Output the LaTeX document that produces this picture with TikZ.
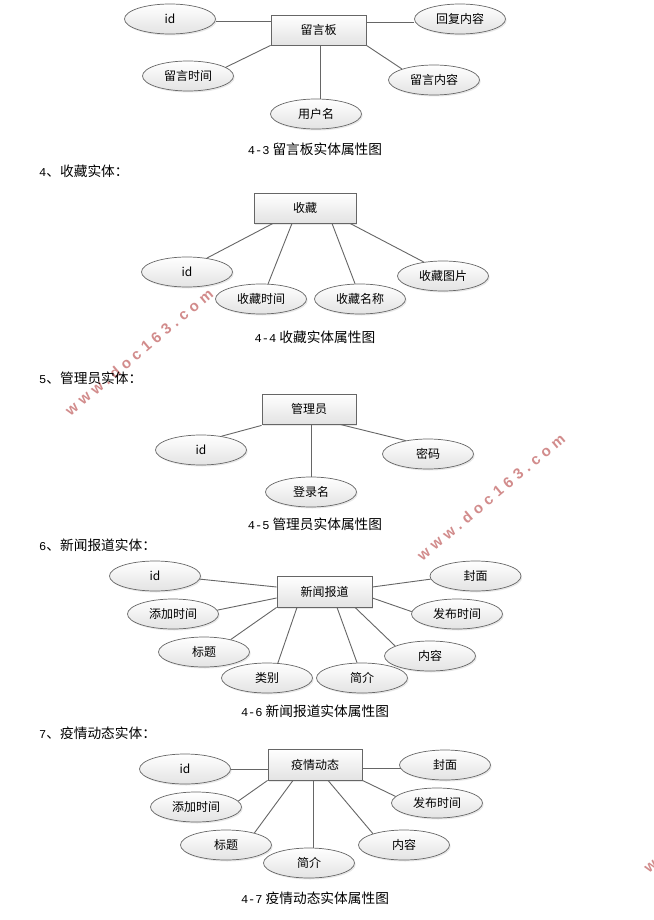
\documentclass[tikz,border=0pt]{standalone}
\usepackage{fontspec}
\setmainfont{Liberation Sans}
\newfontfamily\cjkf{Noto Sans CJK SC}
\newfontfamily\monof{Liberation Mono}
\newfontfamily\wmf[LetterSpace=32]{Liberation Sans}
\usetikzlibrary{shapes.geometric,shadows}
\definecolor{edgec}{HTML}{666666}
\definecolor{wmc}{HTML}{D28C8C}
\tikzset{
  x=1pt,y=-1pt,
  attr/.style={ellipse,draw=edgec,line width=.7pt,minimum width=91pt,minimum height=30pt,inner sep=0pt,
    top color=white,bottom color=black!11,drop shadow={shadow xshift=1.2pt,shadow yshift=-1.5pt,opacity=.18},
    font=\cjkf\fontsize{12}{12}\selectfont,text=black},
  ent/.style={rectangle,draw=edgec,line width=.8pt,minimum height=30pt,inner sep=0pt,
    top color=white,bottom color=black!11,drop shadow={shadow xshift=1.2pt,shadow yshift=-1.5pt,opacity=.18},
    font=\cjkf\fontsize{12}{12}\selectfont,text=black},
  link/.style={draw=edgec,line width=.9pt},
  caption/.style={inner sep=0pt,font=\cjkf\fontsize{13.7}{14}\selectfont,text=black},
  heading/.style={inner sep=0pt,anchor=west,font=\cjkf\fontsize{13.7}{14}\selectfont,text=black},
  mark text/.style={inner sep=0pt,rotate=40,text=wmc,font=\wmf\bfseries\fontsize{15}{15}\selectfont},
}
\newcommand{\nm}[1]{{\monof\fontsize{12}{12}\selectfont #1}}
\begin{document}
\begin{tikzpicture}
\useasboundingbox[fill=white] (0,0) rectangle (653,920);
% watermarks
\node[mark text] (w1) at (139,352) {www.doc163.com};
\node[mark text] (w2) at (491,497) {www.doc163.com};
\begin{scope}
\clip (0,0) rectangle (653,920);
\node[mark text] (w3) at (651,867) {w};
\end{scope}
% 4-3
\node[ent,minimum width=95pt] (a0) at (318.5,30) {留言板};
\node[attr] (a1) at (170,19) {id};
\node[attr] (a2) at (460,19) {回复内容};
\node[attr] (a3) at (188,76) {留言时间};
\node[attr] (a4) at (434,80) {留言内容};
\node[attr] (a5) at (316,114) {用户名};
\draw[link] ([yshift=-2pt]a1.east) -- ([yshift=-2pt]a1.east -| a0.west);
\draw[link] ([yshift=-3pt]a2.west) -- ([yshift=-3pt]a2.west -| a0.east);
\draw[link] (a0.south west) -- (a3.13);
\draw[link] ([xshift=2pt]a0.south) -- ([xshift=4.5pt]a5.north);
\draw[link] (a0.south east) -- (a4.161);
\node[caption] (c1) at (315,149) {\nm{4-3} 留言板实体属性图};
\node[heading] (h4) at (39,171) {\nm{4}、收藏实体：};
% 4-4
\node[ent,minimum width=102pt] (b0) at (305,208) {收藏};
\node[attr] (b1) at (187,272) {id};
\node[attr] (b2) at (261,299) {收藏时间};
\node[attr] (b3) at (360,299) {收藏名称};
\node[attr] (b4) at (443,276) {收藏图片};
\draw[link] ([xshift=-32pt]b0.south) -- (b1.35);
\draw[link] ([xshift=-13pt]b0.south) -- (b2.65);
\draw[link] ([xshift=27pt]b0.south) -- (b3.108);
\draw[link] ([xshift=45pt]b0.south) -- (b4.144);
\node[caption] (c2) at (315,337) {\nm{4-4} 收藏实体属性图};
\node[heading] (h5) at (39,378) {\nm{5}、管理员实体：};
% 4-5
\node[ent,minimum width=94pt] (d0) at (309,409) {管理员};
\node[attr] (d1) at (201,450) {id};
\node[attr] (d2) at (311,492) {登录名};
\node[attr] (d3) at (428,454) {密码};
\draw[link] ([yshift=-1pt]d0.south west) -- (d1.34);
\draw[link] (d0.south -| d2.north) -- (d2.north);
\draw[link] ([xshift=31pt]d0.south) -- (d3.149);
\node[caption] (c3) at (315,524) {\nm{4-5} 管理员实体属性图};
\node[heading] (h6) at (39,545) {\nm{6}、新闻报道实体：};
% 4-6
\node[ent,minimum width=95pt,minimum height=31pt] (e0) at (324.5,591.5) {新闻报道};
\node[attr] (e1) at (155,576) {id};
\node[attr] (e2) at (475.5,576) {封面};
\node[attr] (e3) at (173,614) {添加时间};
\node[attr] (e4) at (457,614) {发布时间};
\node[attr] (e5) at (204,652) {标题};
\node[attr] (e6) at (430,656) {内容};
\node[attr] (e7) at (267,678) {类别};
\node[attr] (e8) at (362,678) {简介};
\draw[link] ([yshift=4.5pt]e0.west) -- (e1.356);
\draw[link] ([yshift=-6.5pt]e0.east) -- (e4.177);
\draw[link] ([yshift=4.5pt]e0.east) -- (e2.184);
\draw[link] ([yshift=-6.5pt]e0.west) -- (e3.5);
\draw[link] (e0.south west) -- (e5.25);
\draw[link] ([xshift=-27.5pt]e0.south) -- (e7.54);
\draw[link] ([xshift=12.5pt]e0.south) -- (e8.108);
\draw[link] ([xshift=30.5pt]e0.south) -- (e6.164);
\node[caption] (c4) at (315,711) {\nm{4-6} 新闻报道实体属性图};
\node[heading] (h7) at (39,733) {\nm{7}、疫情动态实体：};
% 4-7
\node[ent,minimum width=94pt,minimum height=31pt] (f0) at (315,764.5) {疫情动态};
\node[attr] (f1) at (185,769) {id};
\node[attr] (f2) at (445,765) {封面};
\node[attr] (f3) at (196,807) {添加时间};
\node[attr] (f4) at (437,803) {发布时间};
\node[attr] (f5) at (226,845) {标题};
\node[attr] (f6) at (404,845) {内容};
\node[attr] (f7) at (309,863) {简介};
\draw[link] (f1.east) -- (f1.east -| f0.west);
\draw[link] (f2.185) -- (f2.185 -| f0.east);
\draw[link] (f0.south west) -- (f3.8);
\draw[link] ([xshift=-22pt]f0.south) -- (f5.23);
\draw[link] ([xshift=-2pt]f0.south) -- ([xshift=4pt]f7.north);
\draw[link] ([xshift=13pt]f0.south) -- (f6.160);
\draw[link] (f0.south east) -- (f4.171);
\node[caption] (c5) at (315,898) {\nm{4-7} 疫情动态实体属性图};
\end{tikzpicture}
\end{document}
